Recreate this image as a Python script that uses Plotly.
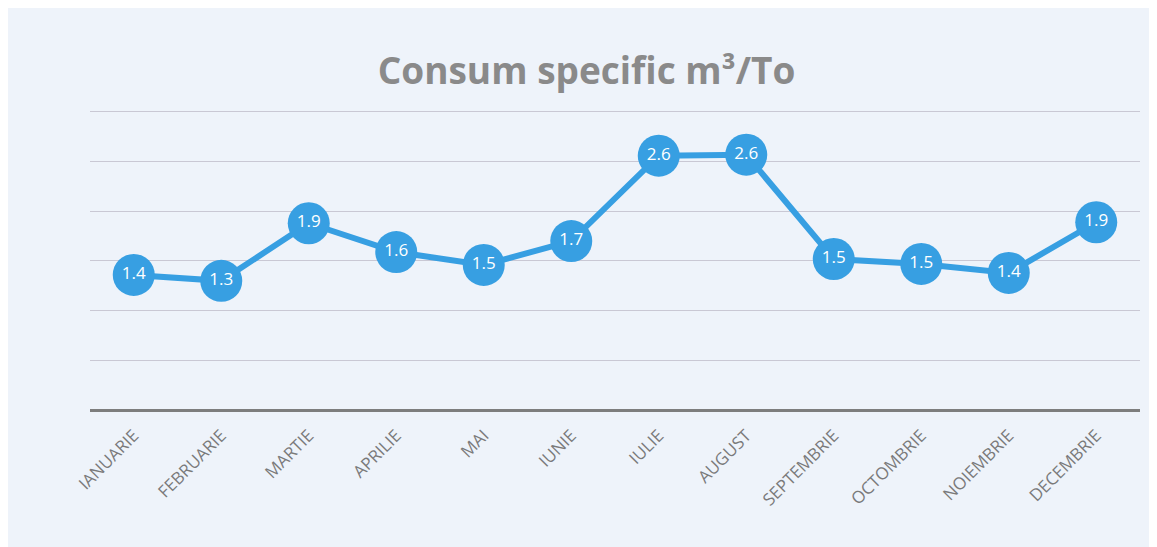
import plotly.graph_objects as go

months = ["IANUARIE", "FEBRUARIE", "MARTIE", "APRILIE", "MAI", "IUNIE",
          "IULIE", "AUGUST", "SEPTEMBRIE", "OCTOMBRIE", "NOIEMBRIE", "DECEMBRIE"]
values = [1.36, 1.30, 1.88, 1.59, 1.46, 1.70, 2.56, 2.57, 1.52, 1.47, 1.38, 1.89]
labels = ["1.4", "1.3", "1.9", "1.6", "1.5", "1.7", "2.6", "2.6", "1.5", "1.5", "1.4", "1.9"]

blue = "#379fe2"

fig = go.Figure()
fig.add_trace(go.Scatter(
    x=months, y=values, mode="lines+markers+text",
    text=labels, textposition="middle center",
    textfont=dict(family="Open Sans", size=17, color="white"),
    line=dict(color=blue, width=6),
    marker=dict(size=42, color=blue),
    cliponaxis=False, hoverinfo="skip", showlegend=False,
))

fig.update_layout(
    width=1157, height=547,
    paper_bgcolor="#eef3fa", plot_bgcolor="#eef3fa",
    margin=dict(l=82, r=25, t=100, b=145, autoexpand=False),
    title=dict(text="<b>Consum specific m³/To</b>", x=0.5, xanchor="center",
               y=0.885, yanchor="middle",
               font=dict(family="Open Sans", size=37, color="#8a8a8a")),
    xaxis=dict(tickangle=-45, showgrid=False, showline=False,
               range=[-0.5, 11.5],
               ticks="outside", ticklen=8, tickcolor="rgba(0,0,0,0)",
               tickfont=dict(family="Open Sans", size=17, color="#7a7a7a")),
    yaxis=dict(range=[0, 3.04], tickvals=[0.5, 1, 1.5, 2, 2.5, 3],
               showticklabels=False, ticks="",
               showgrid=True, gridcolor="#c9c8d4", gridwidth=1,
               zeroline=True, zerolinecolor="#7d7d7d", zerolinewidth=3),
)

fig.write_html("out.html")
